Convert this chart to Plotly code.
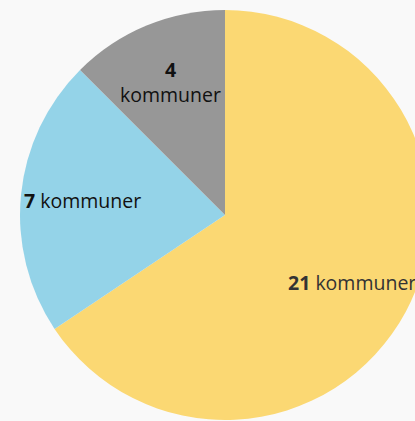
import math
import plotly.graph_objects as go

labels = ["A", "B", "C"]
values = [21, 7, 4]
colors = ["#fbd873", "#94d3e8", "#979797"]
text_colors = ["#333333", "#111111", "#111111"]
texts = ["<b>21</b> kommuner", "<b>7</b> kommuner", "<b>4</b><br>kommuner"]

fig = go.Figure(go.Pie(
    labels=labels,
    values=values,
    textinfo="none",
    sort=False,
    direction="clockwise",
    rotation=0,
    marker=dict(colors=colors, line=dict(width=0)),
    hoverinfo="skip",
    showlegend=False,
    domain=dict(x=[0, 1], y=[0, 1]),
))

# label placement along each slice's mid-angle
W, H = 450, 421
ml, mr, mt, mb = 20, 20, 10, 1
pw, ph = W - ml - mr, H - mt - mb
R = min(pw, ph) / 2
frac = 0.7
total = sum(values)
cum = 0
for v, t, c in zip(values, texts, text_colors):
    mid = (cum + v / 2) / total * 2 * math.pi
    cum += v
    dx = frac * R * math.sin(mid)
    dy = frac * R * math.cos(mid)
    fig.add_annotation(
        x=0.5 + dx / pw, y=0.5 + dy / ph, xref="paper", yref="paper",
        text=t, showarrow=False, xanchor="center", yanchor="middle",
        font=dict(family="Open Sans", size=19.5, color=c),
    )

fig.update_layout(
    width=W, height=H,
    margin=dict(l=ml, r=mr, t=mt, b=mb),
    paper_bgcolor="#f9f9f9",
    plot_bgcolor="#f9f9f9",
)

post = ("document.body.style.margin='0';document.body.style.overflow='hidden';"
        "document.documentElement.style.overflow='hidden';document.body.style.background='#f9f9f9';")
fig.write_html("out.html", post_script=post, config={"displayModeBar": False})
